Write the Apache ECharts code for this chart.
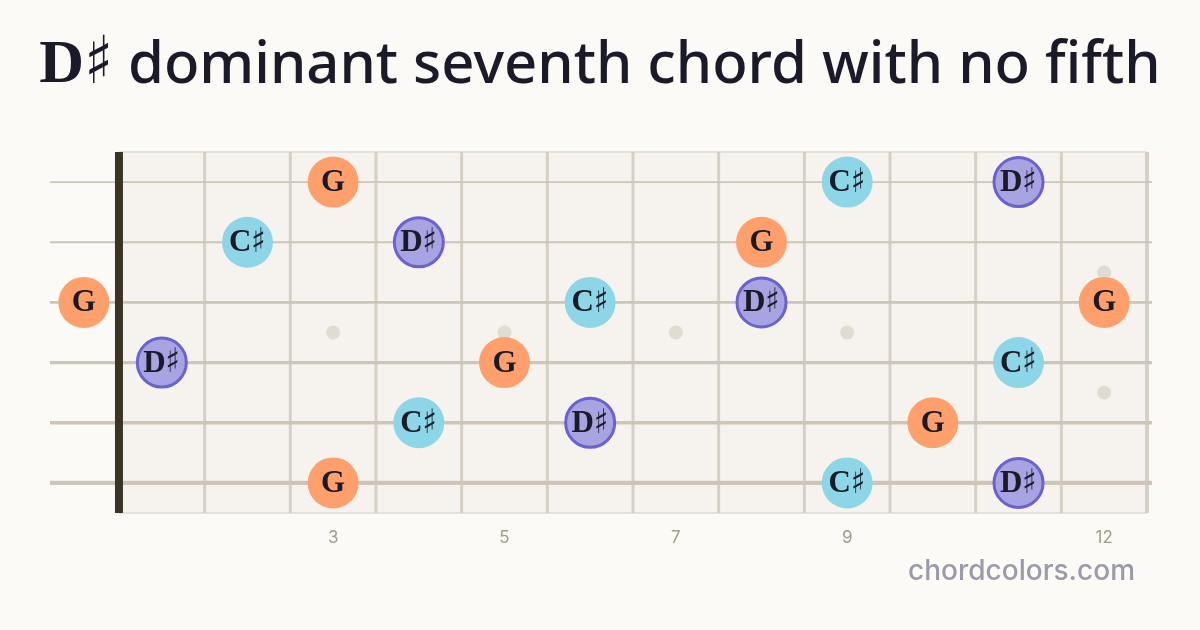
<!DOCTYPE html>
<html>
<head>
<meta charset="utf-8">
<script src="https://cdn.jsdelivr.net/npm/echarts@6/dist/echarts.min.js"></script>
<style>
html,body{margin:0;padding:0;background:#fbfaf6;}
#chart{width:1200px;height:630px;}
</style>
</head>
<body>
<div id="chart"></div>
<script>
// ---- data ----
const titleRoot = 'D';
const titleAcc = '♯';
const titleRest = ' dominant seventh chord with no fifth';
const watermark = 'chordcolors.com';
const stringNums = [1, 2, 3, 4, 5, 6];           // 1 = high E (top)
const fretNums = [1, 2, 3, 4, 5, 6, 7, 8, 9, 10, 11, 12];
const fretLabels = [3, 5, 7, 9, 12];
const singleInlays = [3, 5, 7, 9];
const doubleInlays = [12];
// [fret, string]  fret 0 = open string
const notesG  = [[3, 1], [8, 2], [0, 3], [12, 3], [5, 4], [10, 5], [3, 6]];
const notesCs = [[9, 1], [2, 2], [6, 3], [11, 4], [4, 5], [9, 6]];
const notesDs = [[11, 1], [4, 2], [8, 3], [1, 4], [6, 5], [11, 6]];

// ---- helpers ----
const OPEN_X = -0.41;
const X_MIN = -0.805, X_MAX = 12.058;
function notePos(n) { return [n[0] === 0 ? OPEN_X : n[0] - 0.5, n[1]]; }
function noteLabel(name) {
  return name.length > 1 ? '{n|' + name[0] + '}{s|' + name.slice(1) + '}' : '{n|' + name + '}';
}
const noteRich = {
  n: { fontFamily: 'Liberation Serif', fontWeight: 'bold', fontSize: 31, color: '#1b1a28' },
  s: { fontFamily: 'DejaVu Serif Condensed', fontWeight: 'normal', fontSize: 34, color: '#1b1a28', padding: [0, 0, 0, 0] }
};

function noteSeries(name, data, fill, border) {
  return {
    type: 'scatter', name: name, z: 10,
    data: data.map(notePos),
    symbol: 'circle',
    symbolSize: border ? 49 : 51,
    itemStyle: { color: fill, borderColor: border || fill, borderWidth: border ? 3 : 0, opacity: 1 },
    label: { show: true, position: 'inside', offset: [0, 1], formatter: () => noteLabel(name), rich: noteRich },
    emphasis: { disabled: true },
    silent: true
  };
}

const chart = echarts.init(document.getElementById('chart'), null, { renderer: 'canvas' });
chart.setOption({
  backgroundColor: '#fbfaf6',
  animation: false,
  title: {
    text: '{r|' + titleRoot + '}{a|' + titleAcc + '}{t|' + titleRest + '}',
    left: 'center',
    top: 28,
    textStyle: {
      rich: {
        r: { fontFamily: 'Liberation Serif', fontWeight: 'bold', fontSize: 62, color: '#1b1a28' },
        a: { fontFamily: 'DejaVu Serif Condensed', fontWeight: 'normal', fontSize: 66, color: '#1b1a28' },
        t: { fontFamily: 'Noto Sans', fontWeight: 500, fontSize: 58, color: '#1b1a28' }
      }
    }
  },
  graphic: [{
    type: 'text', right: 65, top: 558,
    style: { text: watermark, fontFamily: 'Inter', fontWeight: 500, fontSize: 28, fill: '#9b9aa8' }
  }],
  grid: { left: 50, right: 48, top: 152, bottom: 117 },
  xAxis: {
    type: 'value', min: X_MIN, max: X_MAX,
    axisLine: { show: false }, axisTick: { show: false }, splitLine: { show: false },
    axisLabel: {
      show: true,
      customValues: fretLabels.map(f => f - 0.5),
      formatter: v => String(Math.round(v + 0.5)),
      color: '#a09b8c', fontFamily: 'Inter', fontSize: 17, margin: 16
    }
  },
  yAxis: { type: 'value', min: 0.5, max: 6.5, inverse: true, show: false },
  series: [
    { // fretboard background
      type: 'custom', z: 1, silent: true,
      data: [[0]],
      renderItem: (p, api) => {
        const a = api.coord([0, 0.5]), b = api.coord([12, 6.5]);
        return { type: 'group', children: [
          { type: 'rect', shape: { x: a[0], y: a[1], width: b[0] - a[0], height: b[1] - a[1] }, style: { fill: '#f6f3ef' } },
          { type: 'line', shape: { x1: a[0], y1: a[1], x2: b[0], y2: a[1] }, style: { stroke: '#e6e1d9', lineWidth: 2 } },
          { type: 'line', shape: { x1: a[0], y1: b[1], x2: b[0], y2: b[1] }, style: { stroke: '#e6e1d9', lineWidth: 2 } }
        ]};
      }
    },
    { // frets
      type: 'custom', z: 2, silent: true,
      data: fretNums.map(f => [f]),
      renderItem: (p, api) => {
        const f = api.value(0);
        const a = api.coord([f, 0.5]), b = api.coord([f, 6.5]);
        return { type: 'line', shape: { x1: a[0], y1: a[1], x2: b[0], y2: b[1] },
          style: { stroke: '#d6cfc4', lineWidth: f === 12 ? 4 : 3 } };
      }
    },
    { // inlays
      type: 'scatter', z: 3, silent: true, symbolSize: 14,
      itemStyle: { color: '#dcd6cb' },
      data: singleInlays.map(f => [f - 0.5, 3.5]).concat(
        doubleInlays.flatMap(f => [[f - 0.5, 2.5], [f - 0.5, 4.5]]))
    },
    { // strings
      type: 'custom', z: 4, silent: true,
      data: stringNums.map(s => [s]),
      renderItem: (p, api) => {
        const s = api.value(0);
        const a = api.coord([X_MIN, s]), b = api.coord([X_MAX, s]);
        return { type: 'line', shape: { x1: a[0], y1: a[1], x2: b[0], y2: b[1] },
          style: { stroke: '#cdc5b8', lineWidth: 1.6 + (s - 1) * 0.5 } };
      }
    },
    { // nut
      type: 'custom', z: 5, silent: true,
      data: [[0]],
      renderItem: (p, api) => {
        const a = api.coord([0, 0.5]), b = api.coord([0, 6.5]);
        return { type: 'line', shape: { x1: a[0], y1: a[1], x2: b[0], y2: b[1] },
          style: { stroke: '#3a3425', lineWidth: 8 } };
      }
    },
    noteSeries('G', notesG, '#ffa06c', null),
    noteSeries('C♯', notesCs, '#8dd6e7', null),
    noteSeries('D♯', notesDs, '#a7a4e1', '#6a62cf')
  ]
});
</script>
</body>
</html>
